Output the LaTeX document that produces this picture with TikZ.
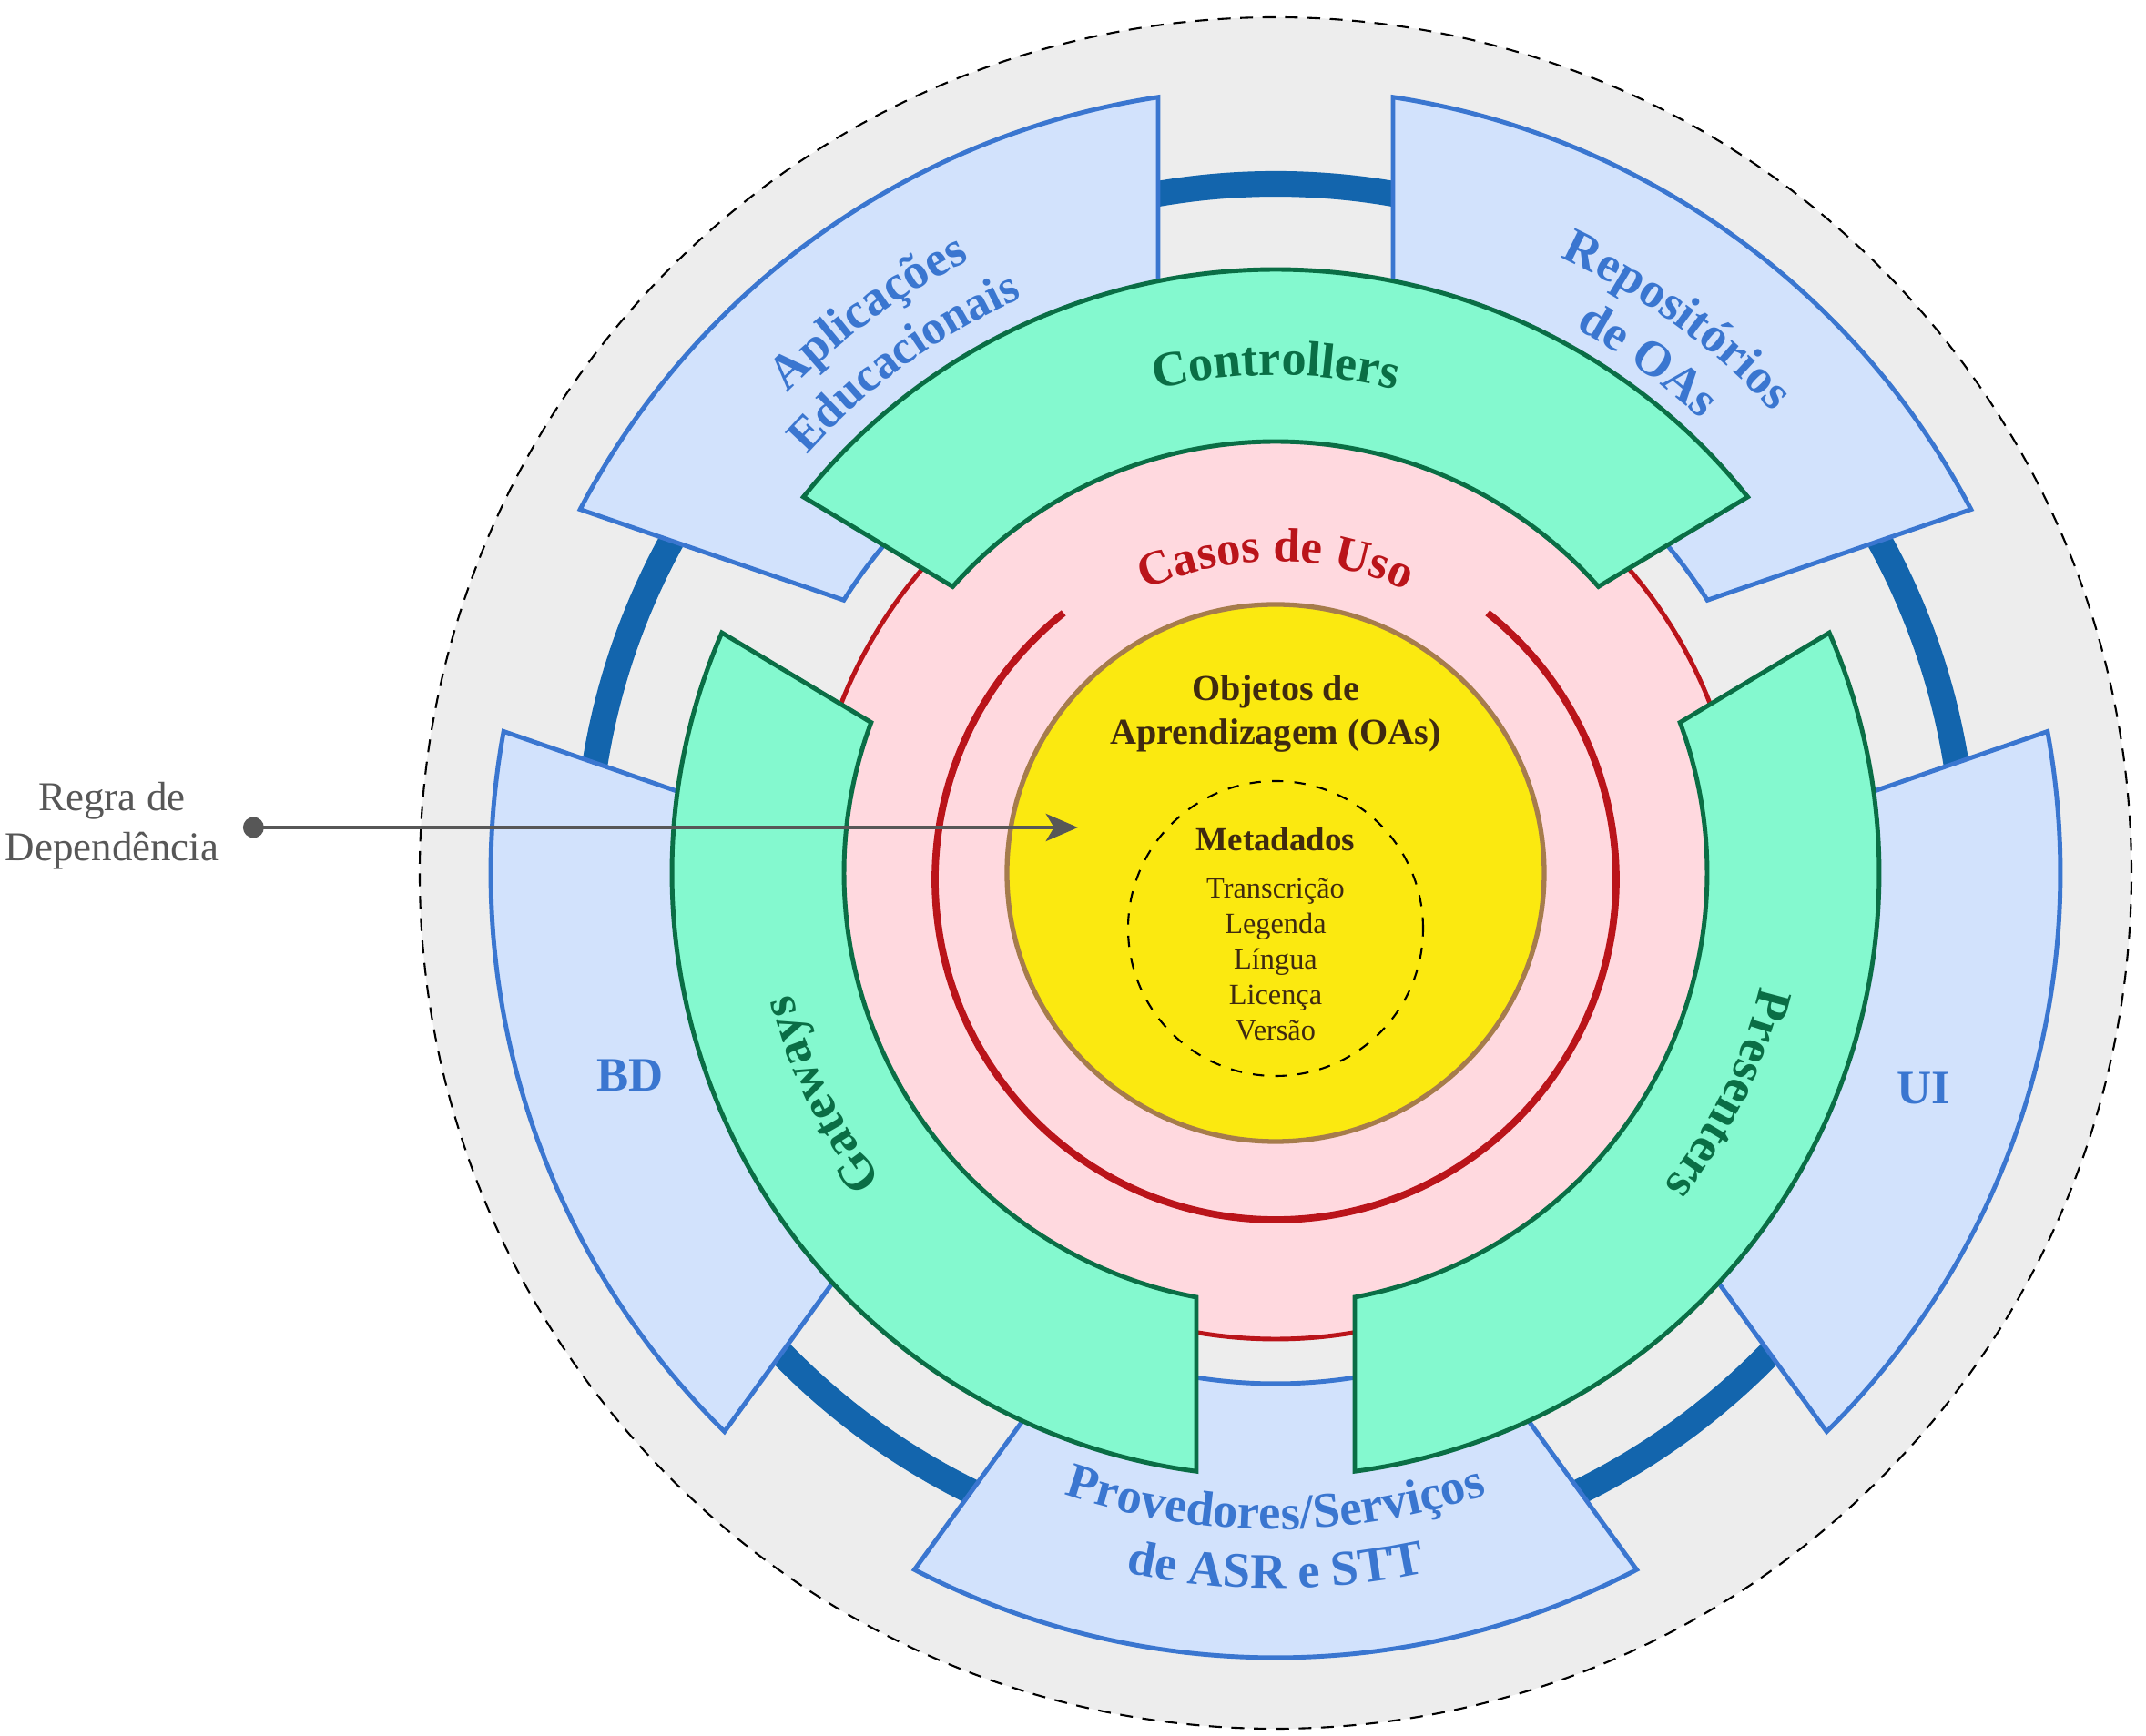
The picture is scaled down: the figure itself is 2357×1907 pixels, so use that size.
\documentclass[tikz,border=0pt]{standalone}
\usepackage{fontspec}
\setmainfont{Liberation Serif}
\usepackage{tikz}
\usetikzlibrary{arrows.meta,
				decorations.text,
				calc}

\definecolor{bgGray}{HTML}{EDEDED}
\definecolor{outerFill}{HTML}{D2E2FC}
\definecolor{outerLine}{HTML}{3A76D0}
\definecolor{ringBlue}{HTML}{1365AD}
\definecolor{mintFill}{HTML}{84F9CF}
\definecolor{mintLine}{HTML}{0A6E45}
\definecolor{pinkFill}{HTML}{FFD9DF}
\definecolor{caseRed}{HTML}{BA141A}
\definecolor{coreFill}{HTML}{FBE910}
\definecolor{coreLine}{HTML}{A67C4C}
\definecolor{coreText}{HTML}{3F2A10}
\definecolor{ruleGray}{HTML}{575757}

\newcommand{\bluebold}{\fontsize{15.5pt}{19pt}\selectfont\bfseries}
\newcommand{\bluesmall}{\fontsize{14.8pt}{18pt}\selectfont\bfseries}
\newcommand{\mintbold}{\fontsize{15.5pt}{18pt}\selectfont\bfseries}
\newcommand{\casebold}{\fontsize{15pt}{18pt}\selectfont\bfseries}

\tikzset{
	bluepart/.style={fill=outerFill, draw=outerLine, line width=1.4pt},
	greenpart/.style={fill=mintFill, draw=mintLine, line width=1.4pt},
	bluetext/.style={text=outerLine, font=\fontsize{15pt}{18pt}\selectfont\bfseries},
	rulearrow/.style={draw=ruleGray, line width=1.3pt,
		{Circle[length=6.5pt]}-{Stealth[length=10pt,width=8.5pt,inset=2.5pt]}}
}

\begin{document}
\begin{tikzpicture}[x=0.01cm,y=0.01cm]
	\useasboundingbox (-1401,-948) rectangle (956,959);
	% fundo e anel azul
	\filldraw[fill=bgGray, draw=black, line width=0.6pt, dash pattern=on 4pt off 3pt] (0,0) circle[radius=940];
	\draw[ringBlue, line width=8pt] (0,0) circle[radius=757];
	\foreach \a/\b in {90/161,161/234,234/306,306/379,19/90}
		\filldraw[bluepart] ({\a+asin(129/862)}:862) arc[start angle={\a+asin(129/862)}, end angle={\b-asin(129/862)}, radius=862]
			-- ({\b-asin(129/561)}:561) arc[start angle={\b-asin(129/561)}, end angle={\a+asin(129/561)}, radius=561] -- cycle;
	% casos de uso
	\filldraw[fill=pinkFill, draw=caseRed, line width=1.4pt] (0,0) circle[radius=512];
	\foreach \a/\b in {31/149,149/270,270/391}
		\filldraw[greenpart] ({\a+asin(87/663)}:663) arc[start angle={\a+asin(87/663)}, end angle={\b-asin(87/663)}, radius=663]
			-- ({\b-asin(87/474)}:474) arc[start angle={\b-asin(87/474)}, end angle={\a+asin(87/474)}, radius=474] -- cycle;
	\draw[caseRed, line width=2.2pt] ($(0,-7)+(128.5:374)$) arc[start angle=128.5, end angle=411.5, radius=374];
	% entidades
	\filldraw[fill=coreFill, draw=coreLine, line width=1.5pt] (0,0) circle[radius=295];
	\draw[black, line width=0.6pt, dash pattern=on 3.5pt off 3.5pt] (0,-61) circle[radius=162];

	% textos curvos
	\path[decorate, decoration={text along path, text align=center, text color=mintLine, text={|\mintbold|Controllers}}]
		(125:547) arc[start angle=125, end angle=55, radius=547];
	\path[decorate, decoration={text along path, text align=center, text color=mintLine, text={|\mintbold|Gateways}}]
		(241:547) arc[start angle=241, end angle=171, radius=547];
	\path[decorate, decoration={text along path, text align=center, text color=mintLine, text={|\mintbold|Presenters}}]
		(369:547) arc[start angle=369, end angle=299, radius=547];
	\path[decorate, decoration={text along path, text align=center, text color=caseRed, text={|\casebold|Casos de Uso}}]
		(130:342) arc[start angle=130, end angle=50, radius=342];
	\path[decorate, decoration={text along path, text align=center, text color=outerLine, text={|\bluebold|Aplicações}}]
		(156:752) arc[start angle=156, end angle=96, radius=752];
	\path[decorate, decoration={text along path, text align=center, text color=outerLine, text={|\bluesmall|Educacionais}}]
		(156:690) arc[start angle=156, end angle=96, radius=690];
	\path[decorate, decoration={text along path, text align=center, text color=outerLine, text={|\bluebold|Repositórios}}]
		(84:745) arc[start angle=84, end angle=24, radius=745];
	\path[decorate, decoration={text along path, text align=center, text color=outerLine, text={|\bluebold|de OAs}}]
		(84:683) arc[start angle=84, end angle=24, radius=683];
	\path[decorate, decoration={text along path, text align=center, text color=outerLine, text={|\bluebold|Provedores/Serviços}}]
		(235:721) arc[start angle=235, end angle=305, radius=721];
	\path[decorate, decoration={text along path, text align=center, text color=outerLine, text={|\bluebold|de ASR e STT}}]
		(240:786) arc[start angle=240, end angle=300, radius=786];

	\node[bluetext] (bdLabel) at (-709,-222) {BD};
	\node[bluetext] (uiLabel) at (712,-236) {UI};

	\node[text=coreText, align=center, font=\fontsize{11.4pt}{13.7pt}\selectfont\bfseries] (oaTitle) at (0,175) {Objetos de\\Aprendizagem (OAs)};
	\node[text=coreText, font=\fontsize{10.5pt}{12pt}\selectfont\bfseries] (metaTitle) at (0,37) {Metadados};
	\node[text=coreText, align=center, font=\fontsize{9.2pt}{11.1pt}\selectfont] (metaList) at (0,-95) {Transcrição\\Legenda\\Língua\\Licença\\Versão};

	% regra de dependencia
	\node[text=ruleGray, align=center, font=\fontsize{12.8pt}{15.6pt}\selectfont] (ruleLabel) at (-1278,52) {Regra de\\Dependência};
	\coordinate (ruleStart) at (-1134,50);
	\coordinate (ruleEnd) at (-217,50);
	\draw[rulearrow] (ruleStart) -- (ruleEnd);
\end{tikzpicture}
\end{document}
